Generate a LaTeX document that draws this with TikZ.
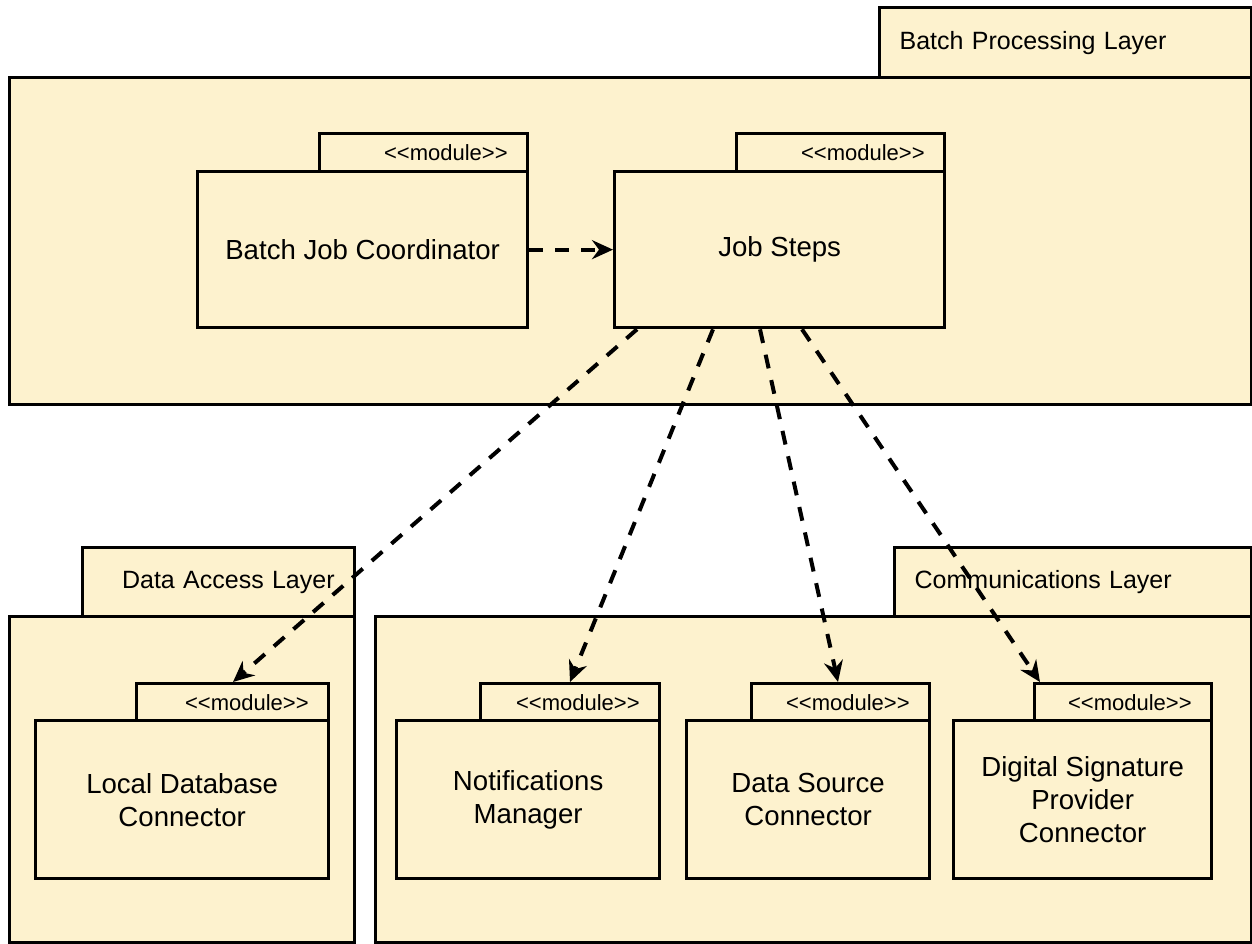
\documentclass[tikz,border=0pt]{standalone}
\usepackage{fontspec}
\newfontfamily\diagfont{Liberation Sans}
\usetikzlibrary{arrows.meta}
\definecolor{pkgYellow}{HTML}{FDF2CE}

\begin{document}
\begin{tikzpicture}[x=1pt, y=-1pt, font=\diagfont,
  box/.style 2 args={draw, line width=3.3pt, fill=pkgYellow, anchor=north west, inner sep=0pt, minimum width=#1pt, minimum height=#2pt},
  lay/.style={font=\diagfont\fontsize{25}{30}\selectfont},
  mod/.style={align=center, font=\diagfont\fontsize{27.6}{33}\selectfont},
  stereo/.style={align=right, font=\diagfont\fontsize{22}{26}\selectfont},
  dep/.style={-{Stealth[length=21pt, width=19pt, inset=7pt]}, line width=4pt, dash pattern=on 14pt off 12pt}]
\useasboundingbox (0,0) rectangle (1252,943);
% layers
\node[box={372}{70}, lay, text width=332pt, align=left](batchtab) at (878,6) {Batch Processing Layer};
\node[box={1242}{327}](batch) at (8,76) {};
\node[box={272}{69}, lay, text width=232pt, align=right](daltab) at (81,546) {Data Access Layer};
\node[box={345}{326}](dal) at (8,615) {};
\node[box={357}{69}, lay, text width=317pt, align=left](commtab) at (893,546) {Communications Layer};
\node[box={876}{326}](comm) at (374,615) {};
% modules
\node[box={208}{38}, stereo, text width=168pt](bjctab) at (318,132) {<<module>>};
\node[box={330}{156}, mod](bjc) at (196,170) {Batch Job Coordinator};
\node[box={208}{38}, stereo, text width=168pt](jstab) at (735,132) {<<module>>};
\node[box={330}{156}, mod](js) at (613,170) {Job Steps};
\node[box={192}{37}, stereo, text width=152pt](ldctab) at (135,682) {<<module>>};
\node[box={293}{158}, mod](ldc) at (34,719) {Local Database\\Connector};
\node[box={179}{37}, stereo, text width=139pt](nmtab) at (479,682) {<<module>>};
\node[box={263}{158}, mod](nm) at (395,719) {Notifications\\Manager};
\node[box={178}{37}, stereo, text width=138pt](dsctab) at (750,682) {<<module>>};
\node[box={243}{158}, mod](dsc) at (685,719) {Data Source\\Connector};
\node[box={177}{37}, stereo, text width=137pt](dsptab) at (1033,682) {<<module>>};
\node[box={258}{158}, mod](dsp) at (952,719) {Digital Signature\\Provider\\Connector};
% dependencies
\draw[dep](bjc.east)--(js.west);
\draw[dep]([xshift=24pt]js.south west)--([xshift=98pt]ldctab.north west);
\draw[dep]([xshift=100pt]js.south west)--([xshift=91pt]nmtab.north west);
\draw[dep]([xshift=147pt]js.south west)--([xshift=88pt]dsctab.north west);
\draw[dep]([xshift=189pt]js.south west)--([xshift=7pt]dsptab.north west);
\end{tikzpicture}
\end{document}
